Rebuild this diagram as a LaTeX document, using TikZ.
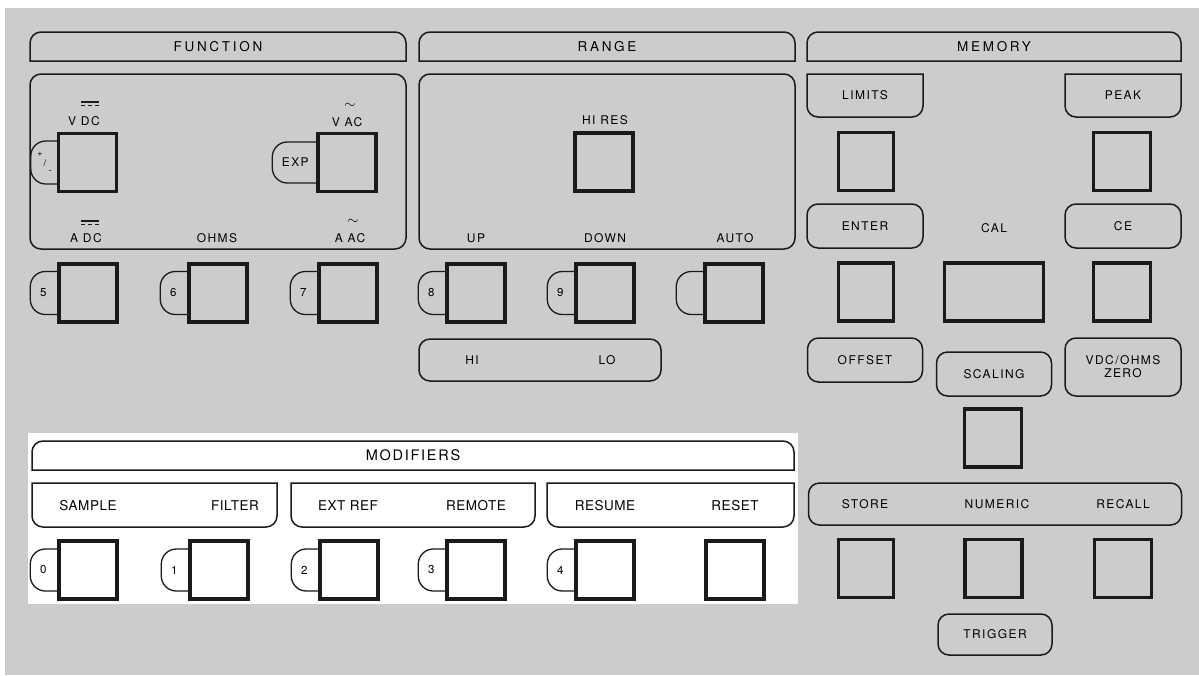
\documentclass[tikz,border=0pt]{standalone}
\usepackage{fontspec}
\setmainfont{TeX Gyre Heros}
\newfontfamily\capfont[LetterSpace=20]{TeX Gyre Heros}
\newfontfamily\panelfont[LetterSpace=12]{TeX Gyre Heros}
\newfontfamily\plainfont[LetterSpace=4]{TeX Gyre Heros}
\usetikzlibrary{positioning}
\definecolor{ink}{HTML}{1A1A1A}
\definecolor{panel}{HTML}{CCCCCC}
\tikzset{
  keysq/.style={draw=ink,line width=3.4pt,minimum width=58pt,minimum height=58pt,inner sep=0pt},
  rbox/.style={draw=ink,line width=1.5pt,rounded corners=11pt,inner sep=0pt},
  tabnode/.style={inner sep=0pt,outer sep=0pt},
  hdr/.style={tabnode,font=\capfont\fontsize{13.5}{15}\selectfont},
  lbl/.style={font=\panelfont\fontsize{12}{14}\selectfont,inner sep=1pt},
  mlbl/.style={font=\plainfont\fontsize{13.5}{15}\selectfont,inner sep=1pt},
  num/.style={font=\fontsize{11.5}{12}\selectfont,inner sep=0pt},
  sym/.style={font=\fontsize{9}{10}\selectfont,inner sep=0pt},
  hookline/.style={draw=ink,line width=1.3pt,rounded corners=15pt},
  edge/.style={ink,line width=1.5pt,rounded corners=11pt,line cap=rect},
}
\newcommand{\tabtop}[1]{\draw[edge] (#1.south west) -- (#1.north west) -- (#1.north east) -- (#1.south east) (#1.south west) -- (#1.south east);}
\newcommand{\tabbot}[1]{\draw[edge] (#1.north west) -- (#1.south west) -- (#1.south east) -- (#1.north east) (#1.north west) -- (#1.north east);}
\newcommand{\hooktab}[3]{\draw[hookline] ([yshift=#3/2]#1.west) -- ++(-#2,0) -- ++(0,-#3) -- ++(#2,0);}

\begin{document}
\begin{tikzpicture}[x=1pt,y=-1pt]
  \useasboundingbox (0,0) rectangle (1199,675);
  \fill[white] (0,0) rectangle (1199,675);
  \fill[panel] (5,8) rectangle (1199,675);
  \fill[white] (28,433) rectangle (798,604);
  \foreach \nm/\x/\w/\t in {hfun/218/376/FUNCTION,hrng/607/376/RANGE,hmem/994/374/MEMORY}{
    \node[hdr,minimum width=\w pt,minimum height=29pt] (\nm) at (\x,46.5) {\t};
    \tabtop{\nm}
  }
  \node[rbox,minimum width=376pt,minimum height=175pt] (fbox) at (218,161.5) {};
  \node[rbox,minimum width=376pt,minimum height=175pt] (rngbox) at (607,161.5) {};
  \node[keysq] (kvdc) at (87.5,162.5) {};
  \hooktab{kvdc}{26pt}{43pt}
  \node[sym] (plus) at (40,154) {+};
  \node[sym] (slash) at (45,163) {/};
  \node[sym] (minus) at (50,172) {-};
  \node[keysq] (kvac) at (347,162.5) {};
  \hooktab{kvac}{44pt}{41pt}
  \node[lbl] (exp) at ([xshift=-21pt]kvac.west) {EXP};
  \node[lbl] (vdc) at (84,121) {V DC};
  \node[lbl] (adc) at (86,238) {A DC};
  \node[lbl] (ohms) at (217,238) {OHMS};
  \node[lbl] (vac) at (347,122) {V AC};
  \node[lbl] (aac) at (350,238) {A AC};
  \node[font=\fontsize{15}{15}\selectfont,inner sep=0pt] (vacs) at (350,106) {$\sim$};
  \node[font=\fontsize{15}{15}\selectfont,inner sep=0pt] (aacs) at (353,222) {$\sim$};
  \foreach \y in {102,221}{
    \draw[ink,line width=1.2pt] (81,\y) -- (99,\y);
    \draw[ink,line width=1.2pt,dash pattern=on 4pt off 3pt] (81,\y+3.5) -- (99,\y+3.5);
  }
  \node[lbl] (hires) at (605,120) {HI RES};
  \node[keysq] (khires) at (604,162) {};
  \node[lbl] (up) at (476,238) {UP};
  \node[lbl] (down) at (605,238) {DOWN};
  \node[lbl] (auto) at (735,238) {AUTO};
  \foreach \n/\x in {5/88,6/218,7/348,8/476,9/605}{
    \node[keysq] (k\n) at (\x,293) {};
    \hooktab{k\n}{27pt}{43pt}
    \node[num] (n\n) at ([xshift=-14pt]k\n.west) {\n};
  }
  \node[keysq] (kauto) at (734,293) {};
  \hooktab{kauto}{27pt}{43pt}
  \node[rbox,minimum width=242pt,minimum height=42pt] (hilo) at (540,360) {};
  \node[lbl] (hi) at (472,360) {HI};
  \node[lbl] (lo) at (607,360) {LO};
  \foreach \nm/\x/\t in {limits/865/LIMITS,peak/1123/PEAK}{
    \node[tabnode,lbl,minimum width=116pt,minimum height=43pt] (\nm) at (\x,95.5) {\t};
    \tabbot{\nm}
  }
  \node[keysq,minimum width=55pt] (klim) at (866,161.5) {};
  \node[keysq,minimum width=57pt] (kpeak) at (1122,161.5) {};
  \node[rbox,lbl,minimum width=116pt,minimum height=44pt] (enter) at (865,226) {ENTER};
  \node[rbox,lbl,minimum width=116pt,minimum height=44pt] (ce) at (1123,226) {CE};
  \node[lbl] (cal) at (994,228) {CAL};
  \node[keysq,minimum width=55pt] (kent) at (866,292) {};
  \node[keysq,minimum width=99pt] (kcal) at (994,292) {};
  \node[keysq,minimum width=57pt] (kce) at (1122,292) {};
  \node[rbox,lbl,minimum width=115pt,minimum height=44pt] (offset) at (865,360) {OFFSET};
  \node[rbox,lbl,minimum width=115pt,minimum height=44pt] (scaling) at (994,374) {SCALING};
  \node[rbox,lbl,align=center,minimum width=116pt,minimum height=58pt] (zero) at (1123,367) {VDC/OHMS\\[-1pt]ZERO};
  \node[keysq,minimum width=57pt] (kscal) at (993,438) {};
  \node[rbox,minimum width=373pt,minimum height=42pt] (snr) at (995,504) {};
  \node[lbl] (store) at (865,504) {STORE};
  \node[lbl] (numeric) at (997,504) {NUMERIC};
  \node[lbl] (recall) at (1123,504) {RECALL};
  \node[keysq,minimum width=55pt] (kstore) at (866,568.5) {};
  \node[keysq,minimum width=57pt] (knum) at (993.5,568.5) {};
  \node[keysq,minimum width=57pt] (krec) at (1123,568.5) {};
  \node[rbox,lbl,minimum width=114pt,minimum height=41pt] (trigger) at (995,634.5) {TRIGGER};
  \node[tabnode,font=\panelfont\fontsize{14.5}{16}\selectfont,minimum width=762pt,minimum height=29pt] (mod) at (413,455.5) {MODIFIERS};
  \tabtop{mod}
  \foreach \nm/\x/\w in {gsf/154.5/245,ger/413/244,grr/670.5/247}{
    \node[tabnode,minimum width=\w pt,minimum height=44pt] (\nm) at (\x,505) {};
    \tabbot{\nm}
  }
  \foreach \nm/\x/\t in {sample/88/SAMPLE,filter/235/FILTER,extref/348/EXT REF,remote/476/REMOTE,resume/605/RESUME,reset/735/RESET}
    \node[mlbl] (\nm) at (\x,506) {\t};
  \foreach \n/\x in {0/88,1/219,2/349,3/476,4/605}{
    \node[keysq] (k\n) at (\x,570) {};
    \hooktab{k\n}{27pt}{42pt}
    \node[num] (n\n) at ([xshift=-14pt]k\n.west) {\n};
  }
  \node[keysq] (kreset) at (735,570) {};
\end{tikzpicture}
\end{document}
